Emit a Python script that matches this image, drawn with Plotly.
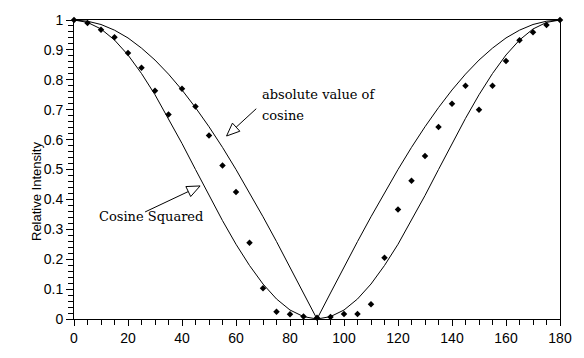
import plotly.graph_objects as go

# Polarizer angle (degrees) sampled every 5 degrees
angles = [0, 5, 10, 15, 20, 25, 30, 35, 40, 45, 50, 55, 60, 65, 70, 75, 80, 85, 90,
          95, 100, 105, 110, 115, 120, 125, 130, 135, 140, 145, 150, 155, 160, 165,
          170, 175, 180]

# Measured relative intensity
measured = [1.0, 0.99, 0.967, 0.942, 0.89, 0.84, 0.763, 0.684, 0.77, 0.711, 0.614,
            0.513, 0.425, 0.255, 0.103, 0.024, 0.016, 0.008, 0.004, 0.007, 0.017,
            0.017, 0.049, 0.205, 0.366, 0.462, 0.545, 0.642, 0.72, 0.78, 0.70, 0.78,
            0.863, 0.932, 0.959, 0.983, 1.0]

# Reference curve: absolute value of cosine
abs_cosine = [1.0, 0.996, 0.985, 0.966, 0.940, 0.906, 0.866, 0.819, 0.766, 0.707,
              0.643, 0.574, 0.500, 0.423, 0.342, 0.259, 0.174, 0.087, 0.0, 0.087,
              0.174, 0.259, 0.342, 0.423, 0.500, 0.574, 0.643, 0.707, 0.766, 0.819,
              0.866, 0.906, 0.940, 0.966, 0.985, 0.996, 1.0]

# Reference curve: cosine squared
cosine_squared = [1.0, 0.992, 0.970, 0.933, 0.883, 0.821, 0.750, 0.671, 0.587, 0.500,
                  0.413, 0.329, 0.250, 0.179, 0.117, 0.067, 0.030, 0.008, 0.0, 0.008,
                  0.030, 0.067, 0.117, 0.179, 0.250, 0.329, 0.413, 0.500, 0.587, 0.671,
                  0.750, 0.821, 0.883, 0.933, 0.970, 0.992, 1.0]

x_ticks = [0, 20, 40, 60, 80, 100, 120, 140, 160, 180]
y_ticks = [0, 0.1, 0.2, 0.3, 0.4, 0.5, 0.6, 0.7, 0.8, 0.9, 1]

fig = go.Figure()
fig.add_trace(go.Scatter(x=angles, y=abs_cosine, mode="lines",
                         line=dict(color="black", width=1), showlegend=False))
fig.add_trace(go.Scatter(x=angles, y=cosine_squared, mode="lines",
                         line=dict(color="black", width=1), showlegend=False))
fig.add_trace(go.Scatter(x=angles, y=measured, mode="markers", cliponaxis=False,
                         marker=dict(symbol="diamond", size=5, color="black"),
                         showlegend=False))

tick_font = dict(family="Liberation Sans, Arial, sans-serif", size=14, color="black")
label_font = dict(family="DejaVu Serif, serif", size=13, color="black")

fig.update_layout(
    width=584, height=358,
    margin=dict(l=74, r=18, t=16, b=27),
    paper_bgcolor="white", plot_bgcolor="white",
    xaxis=dict(range=[0, 180], tickvals=x_ticks, showgrid=False, zeroline=False,
               showline=True, linecolor="black", linewidth=1, mirror=True,
               ticks="outside", ticklen=6, tickcolor="black", tickfont=tick_font,
               minor=dict(dtick=5, ticks="outside", ticklen=5, tickcolor="black")),
    yaxis=dict(range=[0, 1], tickvals=y_ticks, showgrid=False, zeroline=False,
               showline=True, linecolor="black", linewidth=1, mirror=True,
               ticks="outside", ticklen=7, tickcolor="black", tickfont=tick_font,
               minor=dict(dtick=0.02, ticks="outside", ticklen=5, tickcolor="black")),
)

# Axis title
fig.add_annotation(text="Relative Intensity", xref="paper", yref="paper",
                   x=-0.0955, y=0.425, textangle=-90, showarrow=False,
                   font=dict(family="Liberation Sans, Arial, sans-serif", size=13,
                             color="black"))

# Curve labels
fig.add_annotation(text="absolute value of", x=68.8, y=0.75, xanchor="left",
                   yanchor="middle", showarrow=False, font=label_font)
fig.add_annotation(text="cosine", x=68.8, y=0.68, xanchor="left",
                   yanchor="middle", showarrow=False, font=label_font)
fig.add_annotation(text="Cosine Squared", x=8.4, y=0.343, xanchor="left",
                   yanchor="middle", showarrow=False, font=label_font)

# Pointer arrows with hollow heads, drawn in pixels around the tip
arrows = [
    dict(tip=(56.5, 0.612), tail=(29.7, 27.3), base=(9.6, 8.8),
         head="M 0,0 L 13.3,4.8 L 5.9,12.9 Z"),
    dict(tip=(46.7, 0.445), tail=(-55, -26), base=(-11.8, -5.6),
         head="M 0,0 L -9.4,-10.6 L -14.2,-0.6 Z"),
]
for a in arrows:
    common = dict(xref="x", yref="y", xsizemode="pixel", ysizemode="pixel",
                  xanchor=a["tip"][0], yanchor=a["tip"][1])
    fig.add_shape(type="line", x0=a["tail"][0], y0=a["tail"][1],
                  x1=a["base"][0], y1=a["base"][1],
                  line=dict(color="black", width=1), **common)
    fig.add_shape(type="path", path=a["head"], fillcolor="white",
                  line=dict(color="black", width=1), **common)

fig.write_html("out.html")
